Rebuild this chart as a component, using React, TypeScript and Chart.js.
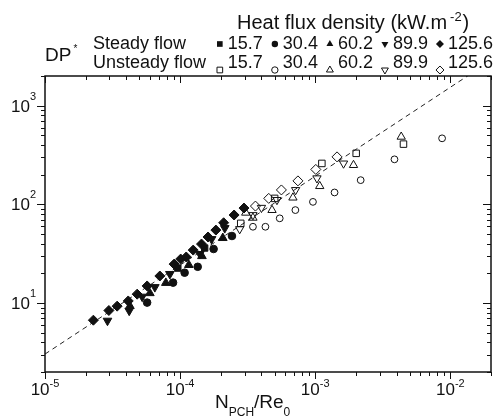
import React, { useEffect, useRef } from "react";
import { Chart, registerables } from "chart.js";
Chart.register(...registerables);

const W = 497;
const H = 419;

// x range and y range
const xMin = 1e-5;
const xMax = 2e-2;
const yMin = 2;
const yMax = 2000;

// Steady flow (filled markers) [x, y]
const steady157: number[][] = [[9.62e-5, 22.6], [1.52e-4, 36.1]];
const steady304: number[][] = [[5.7e-5, 10.1], [8.87e-5, 16.1], [1.08e-4, 20.3], [1.35e-4, 23.3], [1.77e-4, 35.3], [2.42e-4, 47.8]];
const steady602: number[][] = [[4.25e-5, 9.33], [5.97e-5, 12.6], [7.84e-5, 16.0], [1.16e-4, 24.3], [1.45e-4, 29.9], [2.07e-4, 45.6]];
const steady899: number[][] = [[2.9e-5, 6.62], [4.2e-5, 8.36], [5.24e-5, 11.6], [6.5e-5, 14.5], [8.4e-5, 19.7], [1.4e-4, 31.4], [1.71e-4, 44.5], [2.14e-4, 57.5]];
const steady1256: number[][] = [[2.28e-5, 6.7], [2.97e-5, 8.4], [3.42e-5, 9.3], [4.13e-5, 10.5], [4.81e-5, 12.3], [5.7e-5, 14.9], [7.08e-5, 18.8], [9.03e-5, 24.8], [1.01e-4, 27.9], [1.11e-4, 29.3], [1.25e-4, 34.4], [1.44e-4, 39.6], [1.61e-4, 46.7], [1.84e-4, 54.9], [2.1e-4, 65.1], [2.51e-4, 78], [2.97e-4, 91.8]];

// Unsteady flow (open markers) [x, y]
const unsteady157: number[][] = [[2.81e-4, 64.2], [5.01e-4, 115], [1.12e-3, 260], [2.01e-3, 329], [4.5e-3, 408]];
const unsteady304: number[][] = [[3.46e-4, 59.3], [4.28e-4, 59.3], [5.46e-4, 72.2], [7.13e-4, 87.5], [9.62e-4, 106], [1.39e-3, 132], [2.17e-3, 176], [3.86e-3, 286], [8.69e-3, 467]];
const unsteady602: number[][] = [[3.06e-4, 82.2], [3.46e-4, 73.1], [4.79e-4, 87.5], [6.84e-4, 117], [1.08e-3, 153], [1.92e-3, 250], [4.33e-3, 484]];
const unsteady899: number[][] = [[2.76e-4, 56.2], [3.46e-4, 78], [4.0e-4, 92.4], [5.21e-4, 111], [7.16e-4, 140], [1.03e-3, 184], [1.62e-3, 260]];
const unsteady1256: number[][] = [[3.61e-4, 96.1], [4.53e-4, 115], [5.62e-4, 140], [7.45e-4, 173], [1.01e-3, 226], [1.45e-3, 303]];

// Fitted dashed line
const fitX = [1e-5, 2e-2];
const fitY = [3.04, 2870];

// Legend
const fluxLabels = ["15.7", "30.4", "60.2", "89.9", "125.6"];
const markerKinds = ["square", "circle", "triUp", "triDown", "diamond"];
const legendTitle = "Heat flux density (kW.m";
const legendSup = "-2";
const steadyLabel = "Steady flow";
const unsteadyLabel = "Unsteady flow";
const xTickExps = [-5, -4, -3, -2];
const yTickExps = [1, 2, 3];

const FONT = '"Liberation Sans", Arial, sans-serif';
const INK = "#111";

const toPts = (arr: number[][]) => arr.map(([x, y]) => ({ x, y }));

function drawMarker(ctx: CanvasRenderingContext2D, kind: string, x: number, y: number, r: number, filled: boolean) {
  ctx.beginPath();
  if (kind === "square") {
    const s = r * Math.SQRT1_2;
    ctx.rect(x - s, y - s, 2 * s, 2 * s);
  } else if (kind === "circle") {
    ctx.arc(x, y, r * 0.8, 0, Math.PI * 2);
  } else if (kind === "triUp" || kind === "triDown") {
    const d = kind === "triUp" ? 1 : -1;
    ctx.moveTo(x, y - d * r);
    ctx.lineTo(x + r * 0.866, y + d * r * 0.5);
    ctx.lineTo(x - r * 0.866, y + d * r * 0.5);
    ctx.closePath();
  } else {
    ctx.moveTo(x - r, y);
    ctx.lineTo(x, y - r);
    ctx.lineTo(x + r, y);
    ctx.lineTo(x, y + r);
    ctx.closePath();
  }
  if (filled) {
    ctx.fillStyle = INK;
    ctx.fill();
  } else {
    ctx.strokeStyle = INK;
    ctx.lineWidth = 1;
    ctx.stroke();
  }
}

const framePlugin = {
  id: "frameAndLabels",
  afterDatasetsDraw(chart: any) {
    const ctx: CanvasRenderingContext2D = chart.ctx;
    const a = chart.chartArea;
    const xs = chart.scales.x;
    const ys = chart.scales.y;
    ctx.save();
    ctx.strokeStyle = INK;
    ctx.lineWidth = 1.5;
    ctx.strokeRect(a.left, a.top, a.right - a.left, a.bottom - a.top);

    ctx.lineWidth = 1;
    // x ticks
    for (let e = -5; e <= -2; e++) {
      for (let m = 1; m <= 9; m++) {
        const v = m * Math.pow(10, e);
        if (v < xMin * 0.999 || v > xMax * 1.001) continue;
        const px = Math.round(xs.getPixelForValue(v)) + 0.5;
        const len = m === 1 ? 7 : 4;
        ctx.beginPath();
        ctx.moveTo(px, a.bottom);
        ctx.lineTo(px, a.bottom + len);
        ctx.moveTo(px, a.top);
        ctx.lineTo(px, a.top + len);
        ctx.stroke();
      }
    }
    // y ticks
    for (let e = 0; e <= 3; e++) {
      for (let m = 1; m <= 9; m++) {
        const v = m * Math.pow(10, e);
        if (v < yMin * 0.999 || v > yMax * 1.001) continue;
        const py = Math.round(ys.getPixelForValue(v)) + 0.5;
        const len = m === 1 ? 8 : 4;
        ctx.beginPath();
        ctx.moveTo(a.left - len, py);
        ctx.lineTo(a.left, py);
        ctx.moveTo(a.right - len, py);
        ctx.lineTo(a.right, py);
        ctx.stroke();
      }
    }

    ctx.fillStyle = INK;
    ctx.textBaseline = "alphabetic";
    const baseFont = `17px ${FONT}`;
    const supFont = `11px ${FONT}`;
    // x tick labels
    for (const e of xTickExps) {
      const px = xs.getPixelForValue(Math.pow(10, e));
      ctx.font = baseFont;
      const wb = ctx.measureText("10").width;
      ctx.font = supFont;
      const ws = ctx.measureText(String(e)).width;
      const start = px - (wb + ws) / 2;
      ctx.font = baseFont;
      ctx.textAlign = "left";
      ctx.fillText("10", start, 395);
      ctx.font = supFont;
      ctx.fillText(String(e), start + wb, 387);
    }
    // y tick labels
    for (const e of yTickExps) {
      const py = ys.getPixelForValue(Math.pow(10, e));
      ctx.font = supFont;
      const ws = ctx.measureText(String(e)).width;
      ctx.textAlign = "right";
      ctx.fillText(String(e), 36, py - 6);
      ctx.font = baseFont;
      ctx.fillText("10", 36 - ws, py + 6);
    }

    // axis titles
    ctx.textAlign = "left";
    let cx = 215;
    ctx.font = `19px ${FONT}`;
    ctx.fillText("N", cx, 408);
    cx += ctx.measureText("N").width;
    ctx.font = `12px ${FONT}`;
    ctx.fillText("PCH", cx, 416);
    cx += ctx.measureText("PCH").width;
    ctx.font = `19px ${FONT}`;
    ctx.fillText("/Re", cx, 408);
    cx += ctx.measureText("/Re").width;
    ctx.font = `12px ${FONT}`;
    ctx.fillText("0", cx, 416);

    ctx.font = `19px ${FONT}`;
    ctx.fillText("DP", 45, 61);
    const dpw = ctx.measureText("DP").width;
    ctx.font = `10px ${FONT}`;
    ctx.fillText("*", 45 + dpw + 2, 52);

    // legend
    ctx.font = `20px ${FONT}`;
    ctx.fillText(legendTitle, 237, 29);
    let lx = 237 + ctx.measureText(legendTitle).width + 3;
    ctx.font = `13px ${FONT}`;
    ctx.fillText(legendSup, lx, 21);
    lx += ctx.measureText(legendSup).width + 1;
    ctx.font = `20px ${FONT}`;
    ctx.fillText(")", lx, 29);

    ctx.font = `18px ${FONT}`;
    ctx.fillText(steadyLabel, 93, 49);
    ctx.fillText(unsteadyLabel, 93, 68);

    // entries right-aligned to 493
    const g1 = 12;
    const g2 = 8;
    ctx.font = `18px ${FONT}`;
    const widths = fluxLabels.map((l) => ctx.measureText(l).width);
    let pos = 493;
    const numStarts: number[] = [];
    const markX: number[] = [];
    for (let i = fluxLabels.length - 1; i >= 0; i--) {
      pos -= widths[i];
      numStarts[i] = pos;
      markX[i] = pos - g2;
      pos = markX[i] - g1;
    }
    for (let i = 0; i < fluxLabels.length; i++) {
      ctx.fillStyle = INK;
      ctx.font = `18px ${FONT}`;
      ctx.fillText(fluxLabels[i], numStarts[i], 49);
      ctx.fillText(fluxLabels[i], numStarts[i], 68);
      drawMarker(ctx, markerKinds[i], markX[i], 44, 4, true);
      drawMarker(ctx, markerKinds[i], markX[i], 70, 4, false);
    }
    ctx.restore();
  },
};

export default function App() {
  const ref = useRef<HTMLCanvasElement | null>(null);
  useEffect(() => {
    if (!ref.current) return;
    const filled = (data: number[][], style: string, r: number, rot = 0) => ({
      data: toPts(data),
      pointStyle: style,
      pointRadius: r,
      pointRotation: rot,
      pointBackgroundColor: INK,
      pointBorderColor: INK,
      pointBorderWidth: 1,
      showLine: false,
    });
    const open = (data: number[][], style: string, r: number, rot = 0) => ({
      data: toPts(data),
      pointStyle: style,
      pointRadius: r,
      pointRotation: rot,
      pointBackgroundColor: "rgba(0,0,0,0)",
      pointBorderColor: INK,
      pointBorderWidth: 1,
      showLine: false,
    });
    const chart = new Chart(ref.current, {
      type: "scatter",
      data: {
        datasets: [
          filled(steady157, "rect", 4.5),
          filled(steady304, "circle", 3.8),
          filled(steady602, "triangle", 5),
          filled(steady899, "triangle", 5, 180),
          filled(steady1256, "rectRot", 5),
          open(unsteady157, "rect", 4.6),
          open(unsteady304, "circle", 3.4),
          open(unsteady602, "triangle", 4.8),
          open(unsteady899, "triangle", 4.8, 180),
          open(unsteady1256, "rectRot", 5),
          {
            data: fitX.map((x, i) => ({ x, y: fitY[i] })),
            showLine: true,
            borderColor: "#222",
            borderWidth: 1,
            borderDash: [5, 4],
            pointRadius: 0,
            fill: false,
          } as any,
        ] as any,
      },
      options: {
        animation: false,
        responsive: false,
        events: [],
        layout: { padding: { left: 45, top: 76, right: 6, bottom: 47 } },
        plugins: { legend: { display: false }, tooltip: { enabled: false }, title: { display: false } },
        scales: {
          x: { type: "logarithmic", min: xMin, max: xMax, display: false },
          y: { type: "logarithmic", min: yMin, max: yMax, display: false },
        },
      },
      plugins: [framePlugin],
    });
    return () => chart.destroy();
  }, []);
  return (
    <div style={{ position: "fixed", left: 0, top: 0, width: W, height: H, background: "#fff" }}>
      <canvas ref={ref} width={W} height={H} style={{ width: W, height: H, display: "block" }} />
    </div>
  );
}
